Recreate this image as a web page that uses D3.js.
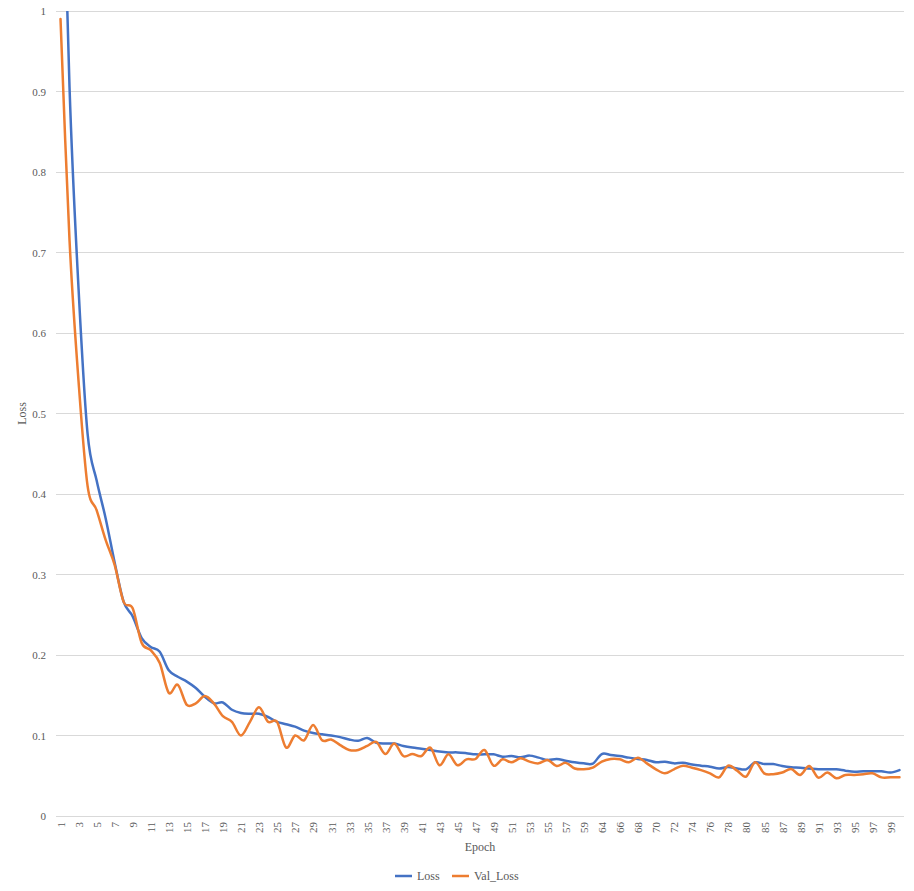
<!DOCTYPE html>
<html><head><meta charset="utf-8">
<script src="https://cdn.jsdelivr.net/npm/d3@7/dist/d3.min.js"></script>
<style>body{margin:0;background:#fff}svg{display:block}text{font-family:"Liberation Serif","Times New Roman",serif;fill:#595959}</style>
</head><body>
<svg id="c" width="914" height="891"></svg>
<script>
const epochs = [1,2,3,4,5,6,7,8,9,10,11,12,13,14,15,16,17,18,19,20,21,22,23,24,25,26,27,28,29,30,
31,32,33,34,35,36,37,38,39,40,41,42,43,44,45,46,47,48,49,50,51,52,53,54,55,56,57,58,59,61,
64,65,66,67,68,69,70,71,72,73,74,75,76,77,78,79,80,83,85,86,87,88,89,90,91,92,93,94,95,96,97,98,99,100];
const loss = [1.32,0.905,0.655,0.475,0.417,0.37,0.315,0.266,0.248,0.221,0.21,0.204,0.181,0.173,0.167,0.159,0.148,0.140,0.141,0.132,
0.128,0.127,0.127,0.123,0.117,0.114,0.111,0.106,0.103,0.1015,0.100,0.098,0.095,0.0935,0.097,0.091,0.090,0.090,0.087,0.085,
0.0836,0.082,0.080,0.079,0.079,0.078,0.0766,0.0766,0.0766,0.0737,0.0745,0.0729,0.075,0.0725,0.0696,0.0708,0.0687,0.0667,0.0654,0.065,
0.077,0.0758,0.0745,0.0725,0.0708,0.0696,0.0667,0.0675,0.0654,0.066,0.064,0.0625,0.0612,0.059,0.061,0.059,0.058,0.0667,0.0646,0.0646,
0.062,0.0605,0.060,0.059,0.058,0.058,0.058,0.0563,0.055,0.0556,0.0556,0.0556,0.054,0.057];
const valLoss = [0.99,0.715,0.54,0.41,0.38,0.343,0.312,0.266,0.258,0.215,0.206,0.19,0.153,0.163,0.138,0.14,0.149,0.140,0.124,0.117,
0.100,0.117,0.135,0.117,0.117,0.085,0.100,0.094,0.113,0.094,0.095,0.088,0.082,0.082,0.087,0.092,0.077,0.090,0.0745,0.077,
0.0745,0.085,0.063,0.0766,0.063,0.0704,0.0708,0.082,0.0625,0.0704,0.0667,0.0716,0.0675,0.0654,0.0696,0.062,0.066,0.059,0.058,0.060,
0.0675,0.0708,0.0704,0.0667,0.0725,0.0654,0.058,0.053,0.058,0.0625,0.060,0.057,0.053,0.048,0.0625,0.0563,0.049,0.0667,0.053,0.052,
0.054,0.0583,0.051,0.062,0.0476,0.054,0.0468,0.051,0.051,0.052,0.053,0.048,0.048,0.048];
const yTicks = [0,0.1,0.2,0.3,0.4,0.5,0.6,0.7,0.8,0.9,1];
const seriesNames = ["Loss","Val_Loss"];
const seriesColors = ["#4472C4","#ED7D31"];

const svg = d3.select("#c");
const L=56, R=904, T=11, B=816;
const x = d3.scalePoint().domain(epochs).range([L,R]).padding(0.5);
const y = d3.scaleLinear().domain([0,1]).range([B,T]);

// gridlines
svg.append("g").selectAll("line").data(yTicks).join("line")
  .attr("x1",L).attr("x2",R).attr("y1",d=>y(d)).attr("y2",d=>y(d))
  .attr("stroke","#d9d9d9").attr("stroke-width",1).attr("shape-rendering","crispEdges");

// y labels
const yAxis = d3.axisLeft(y).tickValues(yTicks).tickSize(0).tickPadding(0).tickFormat(d=>d3.format("~g")(d));
const gy = svg.append("g").attr("transform",`translate(${L-10},0)`).call(yAxis);
gy.select(".domain").remove();
gy.selectAll("text").style("font-size","11px").attr("fill","#595959").style("font-family",'"Liberation Serif",serif');

// x labels
const xAxis = d3.axisBottom(x).tickValues(epochs.filter((d,i)=>i%2===0)).tickSize(0).tickPadding(0);
const gx = svg.append("g").attr("transform",`translate(0,${B})`).call(xAxis);
gx.select(".domain").remove();
gx.selectAll("text").style("font-size","11px").attr("fill","#595959").style("font-family",'"Liberation Serif",serif')
  .attr("transform","rotate(-90)").attr("text-anchor","end").attr("x",-6).attr("y",0).attr("dy","0.35em");

// axis titles
svg.append("text").attr("x",(L+R)/2).attr("y",851).attr("text-anchor","middle").style("font-size","12px").text("Epoch");
svg.append("text").attr("transform",`translate(26,${(T+B)/2}) rotate(-90)`).attr("text-anchor","middle").style("font-size","12px").text("Loss");

// clip
svg.append("clipPath").attr("id","pc").append("rect").attr("x",L).attr("y",T).attr("width",R-L).attr("height",B-T);

const line = d3.line().x((d,i)=>x(epochs[i])).y(d=>y(d)).curve(d3.curveCardinal.tension(0));
const gl = svg.append("g").attr("clip-path","url(#pc)");
[loss,valLoss].forEach((s,k)=>{
  gl.append("path").attr("d",line(s)).attr("fill","none").attr("stroke",seriesColors[k])
    .attr("stroke-width",2.5).attr("stroke-linejoin","round").attr("stroke-linecap","round");
});

// legend
const lg = svg.append("g").attr("transform","translate(0,876)");
const legX = [395,452];
seriesNames.forEach((n,k)=>{
  lg.append("line").attr("x1",legX[k]).attr("x2",legX[k]+17).attr("y1",0).attr("y2",0)
    .attr("stroke",seriesColors[k]).attr("stroke-width",2.5);
  lg.append("text").attr("x",legX[k]+22).attr("y",4).style("font-size","12px").text(n);
});
</script>
</body></html>
